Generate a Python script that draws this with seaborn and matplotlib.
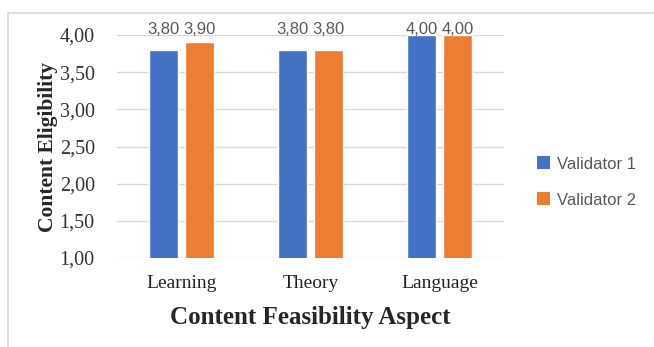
import matplotlib
matplotlib.use("Agg")
import matplotlib.pyplot as plt
from matplotlib.lines import Line2D
from matplotlib.patches import Patch
import seaborn as sns
import pandas as pd

# Scores per aspect for each validator
aspects = ["Learning", "Theory", "Language"]
validator_1 = [3.80, 3.80, 4.00]
validator_2 = [3.90, 3.80, 4.00]
series_names = ["Validator 1", "Validator 2"]
y_ticks = [1.0, 1.5, 2.0, 2.5, 3.0, 3.5, 4.0]

df = pd.DataFrame({
    "aspect": aspects * 2,
    "score": validator_1 + validator_2,
    "validator": [series_names[0]] * 3 + [series_names[1]] * 3,
})

colors = {"Validator 1": "#4472C4", "Validator 2": "#ED7D31"}

sns.set_theme(style="white")
plt.rcParams["font.family"] = ["Liberation Serif", "DejaVu Serif"]

fig = plt.figure(figsize=(6.54, 3.47), dpi=100)
ax = fig.add_axes([117 / 654, 1 - 258 / 347, (504 - 117) / 654, (258 - 35) / 347])

sns.barplot(data=df, x="aspect", y="score", hue="validator", palette=colors,
            width=0.56, gap=0.2, ax=ax, legend=False, saturation=1)

ax.set_ylim(1.0, 4.0)
ax.set_xlim(-0.5, 2.5)
ax.set_yticks(y_ticks)
ax.set_yticklabels([f"{v:.2f}".replace(".", ",") for v in y_ticks], fontsize=14.5)
ax.tick_params(axis="x", labelsize=14, pad=12, length=0, colors="#222222")
ax.tick_params(axis="y", pad=16, length=0, colors="#333333")
ax.yaxis.grid(True, color="#d9d9d9", linewidth=1)
ax.set_axisbelow(True)
for s in ax.spines.values():
    s.set_visible(False)

# value labels sit in a row on the top gridline
for cont in ax.containers:
    for bar in cont:
        value = bar.get_height()
        ax.annotate(f"{value:.2f}".replace(".", ","),
                    (bar.get_x() + bar.get_width() / 2, 4.0),
                    xytext=(0, -1.5), textcoords="offset points", ha="center", va="bottom",
                    fontsize=12, color="#595959", annotation_clip=False,
                    family=["Liberation Sans", "DejaVu Sans"])

ax.set_xlabel("Content Feasibility Aspect", fontsize=18, fontweight="bold", labelpad=10)
ax.set_ylabel("Content Eligibility", fontsize=15.5, fontweight="bold", labelpad=1)

handles = [Patch(facecolor=colors[n], edgecolor="none") for n in series_names]
fig.legend(handles, series_names, loc="center left", bbox_to_anchor=(522 / 654, 1 - 182 / 347),
           frameon=False, handlelength=0.8, handleheight=0.8, handletextpad=0.4,
           labelspacing=1.25, prop={"family": ["Liberation Sans", "DejaVu Sans"], "size": 12},
           labelcolor="#595959")

# chart area border
fig.add_artist(Line2D([8 / 654, 8 / 654], [0, 1 - 13 / 347], transform=fig.transFigure,
                      color="#d9d9d9", linewidth=1.2))
fig.add_artist(Line2D([8 / 654, 1], [1 - 13 / 347, 1 - 13 / 347], transform=fig.transFigure,
                      color="#d9d9d9", linewidth=1.2))

fig.savefig("out.png", dpi=100)
